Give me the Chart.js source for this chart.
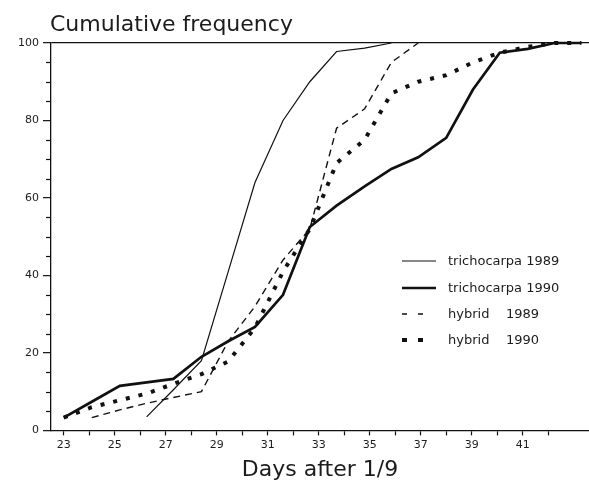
<!DOCTYPE html>
<html>
<head>
<meta charset="utf-8">
<script src="https://cdn.jsdelivr.net/npm/chart.js@4/dist/chart.umd.min.js"></script>
<style>
  html, body { margin: 0; padding: 0; background: #fff; }
  #wrap { width: 589px; height: 487px; position: relative; }
</style>
</head>
<body>
<div id="wrap"><canvas id="c" width="589" height="487"></canvas></div>
<script>
// ---- data (x = position on the day axis) ----
const chartTitle = "Cumulative frequency";
const xAxisTitle = "Days after 1/9";
const xTickValues = [23,24,25,26,27,28,29,30,31,32,33,34,35,36,37,38,39,40,41,42];
const yTickValues = [0,20,40,60,80,100];
const yMinorTickValues = [5,10,15,25,30,35,45,50,55,65,70,75,85,90,95];

const trichocarpa1989Days   = [26.25,27.3,28.4,29.45,30.5,31.6,32.65,33.7,34.8,35.85];
const trichocarpa1989Values = [3.5,10.5,18,41,64,80,90,97.8,98.7,100];

const trichocarpa1990Days   = [23,24.1,25.2,26.25,27.3,28.4,29.45,30.5,31.6,32.65,33.7,34.8,35.85,36.9,38,39.05,40.1,41.2,42.25,43.3];
const trichocarpa1990Values = [3.3,7.4,11.5,12.4,13.3,19,23,26.7,35,52.5,58,63,67.5,70.5,75.5,88,97.5,98.5,100,100];

const hybrid1989Days   = [24.1,25.2,26.25,27.3,28.4,29.45,30.5,31.6,32.65,33.7,34.8,35.85,36.9];
const hybrid1989Values = [3.3,5.3,7,8.5,10,23,32,44,52,78,83,95,100];

const hybrid1990Days   = [23,24.1,25.2,26.25,27.3,28.4,29.45,30.5,31.6,32.65,33.7,34.8,35.85,36.9,38,39.05,40.1,41.2,42.25,43.3];
const hybrid1990Values = [3.3,6,7.8,9.5,12,14.5,17.8,26.5,41,52,69,75,87,90,91.7,95,97.5,99,100,100];

const seriesLabels = ["trichocarpa 1989", "trichocarpa 1990", "hybrid    1989", "hybrid    1990"];

// ---- build ----
const toXY = (d, v) => d.map((x, i) => ({ x: x, y: v[i] }));
const INK = '#111';
const TXT = '#1c1c1c';
const FONT = '"DejaVu Sans", sans-serif';

const datasets = [
  { label: seriesLabels[0], data: toXY(trichocarpa1989Days, trichocarpa1989Values),
    borderColor: INK, borderWidth: 1.2, legendDash: [], legendLen: 34 },
  { label: seriesLabels[1], data: toXY(trichocarpa1990Days, trichocarpa1990Values),
    borderColor: INK, borderWidth: 2.7, legendDash: [], legendLen: 34 },
  { label: seriesLabels[2], data: toXY(hybrid1989Days, hybrid1989Values),
    borderColor: INK, borderWidth: 1.4, borderDash: [7, 5], legendDash: [5, 11], legendLen: 22 },
  { label: seriesLabels[3], data: toXY(hybrid1990Days, hybrid1990Values),
    borderColor: INK, borderWidth: 4, borderDash: [4, 9], legendDash: [5, 11], legendLen: 22 }
].map(d => Object.assign({ pointRadius: 0, tension: 0, fill: false, borderCapStyle: 'butt', clip: false }, d));

const decor = {
  id: 'decor',
  afterDraw(chart) {
    const ctx = chart.ctx;
    const ca = chart.chartArea;
    const ys = chart.scales.y;
    ctx.save();
    // minor y ticks
    ctx.strokeStyle = INK;
    ctx.lineWidth = 1.2;
    yMinorTickValues.forEach(v => {
      const py = Math.round(ys.getPixelForValue(v)) + 0.5;
      ctx.beginPath();
      ctx.moveTo(ca.left - 5, py);
      ctx.lineTo(ca.left, py);
      ctx.stroke();
    });
    // title
    ctx.fillStyle = TXT;
    ctx.font = '22px ' + FONT;
    ctx.textBaseline = 'alphabetic';
    ctx.textAlign = 'left';
    ctx.fillText(chartTitle, ca.left - 1, 31);
    // legend
    const rowY = [261, 288, 314, 340];
    const lx = 402, tx = 448;
    ctx.font = '13px ' + FONT;
    ctx.textBaseline = 'middle';
    chart.data.datasets.forEach((ds, i) => {
      ctx.beginPath();
      ctx.lineWidth = ds.borderWidth;
      ctx.setLineDash(ds.legendDash);
      ctx.lineCap = 'butt';
      ctx.strokeStyle = INK;
      ctx.moveTo(lx, rowY[i]);
      ctx.lineTo(lx + ds.legendLen, rowY[i]);
      ctx.stroke();
      ctx.setLineDash([]);
      ctx.fillStyle = TXT;
      ctx.fillText(ds.label, tx, rowY[i] + 1);
    });
    ctx.restore();
  }
};

new Chart(document.getElementById('c'), {
  type: 'line',
  data: { datasets },
  plugins: [decor],
  options: {
    responsive: false,
    animation: false,
    layout: { padding: { top: 43, left: 14, right: 0, bottom: 0 } },
    plugins: { legend: { display: false }, tooltip: { enabled: false }, title: { display: false } },
    scales: {
      x: {
        type: 'linear', min: 22.5, max: 43.6,
        afterBuildTicks: s => { s.ticks = xTickValues.map(v => ({ value: v })); },
        ticks: { autoSkip: false, maxRotation: 0, padding: 3, color: TXT,
                 font: { family: FONT, size: 11 },
                 callback: v => (v % 2 === 1 ? String(v) : '') },
        grid: { drawOnChartArea: false, drawTicks: true, tickLength: 5, tickColor: INK, tickWidth: 1.2 },
        border: { display: true, color: INK, width: 1.3 },
        title: { display: true, text: xAxisTitle, color: TXT, font: { family: FONT, size: 22 },
                 padding: { top: 2, bottom: 4 } }
      },
      y: {
        type: 'linear', min: 0, max: 100,
        afterBuildTicks: s => { s.ticks = yTickValues.map(v => ({ value: v })); },
        ticks: { padding: 4, color: TXT, font: { family: FONT, size: 11 } },
        grid: {
          drawTicks: true, tickLength: 8, tickColor: INK, tickWidth: 1.2,
          color: c => (c.tick && c.tick.value === 100 ? INK : 'rgba(0,0,0,0)'),
          lineWidth: 1.3
        },
        border: { display: true, color: INK, width: 1.3 }
      }
    }
  }
});
</script>
</body>
</html>
